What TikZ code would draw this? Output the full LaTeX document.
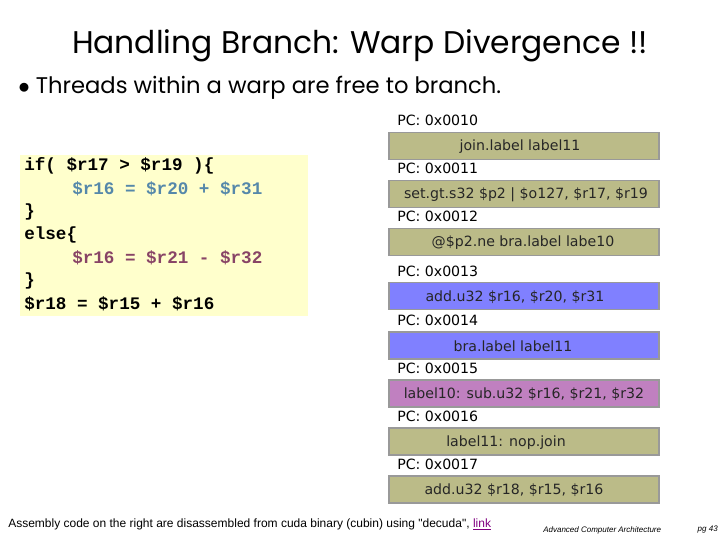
\documentclass[tikz,border=0pt]{standalone}
\usepackage{fontspec}
\setmainfont{DejaVu Sans}
\newfontfamily\titlefont{Poppins}
\newfontfamily\codefont{Liberation Mono}
\newfontfamily\footfont{Liberation Sans}
\definecolor{olivebox}{HTML}{BBBB88}
\definecolor{bluebox}{HTML}{8080FF}
\definecolor{purplebox}{HTML}{C080C0}
\definecolor{boxedge}{HTML}{999999}
\definecolor{codebg}{HTML}{FFFFCC}
\definecolor{codeblue}{HTML}{5588AA}
\definecolor{codemauve}{HTML}{884466}
\definecolor{linkpurple}{HTML}{800080}
\begin{document}
\begin{tikzpicture}[x=0.75pt,y=-0.75pt,
  insbox/.style={draw=boxedge, line width=0.8pt, minimum width=202.5pt, minimum height=20.25pt, inner sep=0pt},
  instext/.style={font=\fontsize{10.6}{12}\selectfont, inner sep=0pt, text=black!85},
  pclabel/.style={font=\fontsize{10.6}{12}\selectfont, anchor=west, inner sep=0pt},
  codeline/.style={font=\codefont\bfseries\fontsize{13.2}{16}\selectfont, anchor=west, inner sep=0pt}]
\useasboundingbox (0,0) rectangle (720,540);
\fill[white] (0,0) rectangle (720,540);
% title
\node[font=\titlefont\fontsize{23.5}{28}\selectfont, inner sep=0pt] (title) at (360,46) {Handling Branch: Warp Divergence !!};
\node[font=\titlefont\fontsize{17}{20}\selectfont, anchor=west, inner sep=0pt] (bullet) at (18,88) {$\bullet$ Threads within a warp are free to branch.};
% code box
\node[fill=codebg, minimum width=216pt, minimum height=120.75pt, inner sep=0pt, anchor=north west] (codebox) at (20,155) {};
\node[codeline] (c1) at (24,166) {if( \$r17 > \$r19 )\{};
\node[codeline, text=codeblue] (c2) at (72,189) {\$r16 = \$r20 + \$r31};
\node[codeline] (c3) at (24,212) {\}};
\node[codeline] (c4) at (24,235) {else\{};
\node[codeline, text=codemauve] (c5) at (72,258) {\$r16 = \$r21 - \$r32};
\node[codeline] (c6) at (24,281) {\}};
\node[codeline] (c7) at (24,304) {\$r18 = \$r15 + \$r16};
% PC labels
\node[pclabel] (pc0) at (397,120) {PC: 0x0010};
\node[pclabel] (pc1) at (397,168) {PC: 0x0011};
\node[pclabel] (pc2) at (397,216) {PC: 0x0012};
\node[pclabel] (pc3) at (397,271) {PC: 0x0013};
\node[pclabel] (pc4) at (397,320) {PC: 0x0014};
\node[pclabel] (pc5) at (397,368) {PC: 0x0015};
\node[pclabel] (pc6) at (397,416) {PC: 0x0016};
\node[pclabel] (pc7) at (397,464) {PC: 0x0017};
% boxes
\node[insbox, fill=olivebox] (b0) at (524,146) {};
\node[insbox, fill=olivebox] (b1) at (524,194) {};
\node[insbox, fill=olivebox] (b2) at (524,242) {};
\node[insbox, fill=bluebox] (b3) at (524,296) {};
\node[insbox, fill=bluebox] (b4) at (524,345.5) {};
\node[insbox, fill=purplebox] (b5) at (524,393.5) {};
\node[insbox, fill=olivebox] (b6) at (524,441.5) {};
\node[insbox, fill=olivebox] (b7) at (524,489.5) {};
\node[instext] (t0) at (520,147) {join.label label11};
\node[instext] (t1) at (526,195) {set.gt.s32 \$p2 | \$o127, \$r17, \$r19};
\node[instext] (t2) at (523,243) {@\$p2.ne bra.label labe10};
\node[instext] (t3) at (515,297) {add.u32 \$r16, \$r20, \$r31};
\node[instext] (t4) at (513,346.5) {bra.label label11};
\node[instext] (t5) at (524,394.5) {label10: sub.u32 \$r16, \$r21, \$r32};
\node[instext] (t6) at (506,442.5) {label11: nop.join};
\node[instext] (t7) at (514,490.5) {add.u32 \$r18, \$r15, \$r16};
% footer
\node[font=\footfont\fontsize{9}{10}\selectfont, anchor=west, inner sep=0pt] (foot) at (8,524) {Assembly code on the right are disassembled from cuda binary (cubin) using "decuda", \textcolor{linkpurple}{\underline{link}}};
\node[font=\footfont\itshape\fontsize{6}{7}\selectfont, anchor=west, inner sep=0pt] (course) at (543,530) {Advanced Computer Architecture};
\node[font=\footfont\itshape\fontsize{6}{7}\selectfont, anchor=east, inner sep=0pt] (page) at (718,530) {pg 43};
\end{tikzpicture}
\end{document}
